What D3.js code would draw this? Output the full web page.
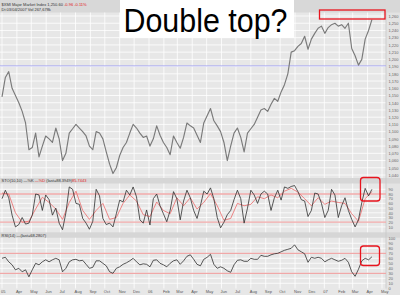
<!DOCTYPE html>
<html><head><meta charset="utf-8">
<script src="https://cdn.jsdelivr.net/npm/d3@7"></script>
<style>body{margin:0;background:#fff}svg{display:block}text{font-family:"Liberation Sans",Arial,sans-serif}</style>
</head><body>
<script>
// ---------- data (weekly samples) ----------
const startDate = "2005-03-01";
const monthLabels = ["05","Apr","May","Jun","Jul","Aug","Sep","Oct","Nov","Dec","06","Feb","Mar","Apr","May","Jun","Jul","Aug","Sep","Oct","Nov","Dec","07","Feb","Mar","Apr","May"];
const priceTicks = d3.range(1040, 1261, 10);
const stoTicks = [10,20,30,40,50,60,70,80,90];
const rsiTicks = [0,10,20,30,40,50,60,70,80,90,100];
const price = [1148,1175,1183,1160,1150,1140,1128,1112,1075,1078,1098,1065,1080,1094,1090,1085,1105,1090,1060,1070,
 1098,1104,1110,1105,1100,1094,1080,1075,1100,1098,1090,1072,1055,1042,1050,1067,1078,1085,1098,1110,
 1105,1098,1092,1094,1080,1090,1108,1095,1085,1078,1068,1094,1085,1077,1092,1112,1108,1105,1095,1085,
 1112,1122,1132,1115,1108,1100,1085,1060,1080,1098,1105,1092,1072,1098,1104,1110,1120,1130,1132,1128,
 1138,1146,1142,1155,1165,1180,1210,1212,1218,1222,1232,1214,1228,1236,1243,1246,1236,1244,1248,1250,
 1246,1248,1243,1250,1215,1205,1192,1200,1228,1240,1255];
const stoK = [70,88,72,35,10,15,30,16,18,35,80,78,45,78,68,35,50,18,4,40,
 95,90,60,58,28,18,5,22,90,76,28,15,18,10,38,67,63,88,78,95,
 74,25,18,46,14,70,80,55,38,21,45,85,70,25,65,88,72,45,28,55,
 86,80,93,70,30,8,20,36,45,68,88,70,18,50,88,78,60,80,86,80,
 45,72,88,67,95,92,96,98,85,68,65,32,45,82,80,60,30,45,90,78,
 30,55,72,45,26,10,25,62,92,76,90];
// %D sampled every two weeks
const stoD = [82,80,40,20,22,48,73,62,48,26,62,86,45,26,45,60,26,30,60,78,
 65,36,32,63,45,38,72,55,72,48,62,81,55,24,28,60,55,58,74,70,
 78,72,86,92,84,70,55,72,58,65,62,60,38,22,70,85];
const rsi14 = [60,62,53,47,37,40,33,37,23,37,50,47,53,57,53,57,60,57,33,40,
 53,57,58,55,56,48,40,42,55,55,50,45,33,30,40,43,48,51,55,60,
 53,47,49,48,43,56,57,50,47,43,50,55,57,48,55,64,67,58,48,45,
 58,62,68,48,40,43,40,35,32,47,56,57,54,54,60,58,58,66,64,64,
 67,69,70,73,76,78,80,87,77,73,69,52,62,60,62,60,53,57,60,57,
 54,56,60,52,33,24,38,55,60,57,63];
const supportLevel = 1191;

// ---------- layout ----------
const W = 400, H = 295, plotR = 386;
const svg = d3.select("body").append("svg").attr("width", W).attr("height", H);
const t0 = d3.timeParse("%Y-%m-%d")(startDate);
const x = d3.scaleTime().domain([t0, d3.timeMonth.offset(t0, 26)]).range([2, 382]);
const yP = d3.scaleLinear().domain([1040, 1260]).range([175, 16]);
const yS = d3.scaleLinear().domain([0, 100]).range([231.6, 184.6]);
const yR = d3.scaleLinear().domain([0, 100]).range([288.3, 238.3]);

svg.append("rect").attr("width", W).attr("height", H).attr("fill", "#e7e7e7");
svg.append("rect").attr("x", plotR).attr("width", W - plotR).attr("height", H).attr("fill", "#e3e3e3");
// header bands
svg.append("rect").attr("width", W).attr("height", 12.5).attr("fill", "#d8d8d8");
svg.append("rect").attr("y", 178).attr("width", W).attr("height", 5.5).attr("fill", "#d6d6d6");
svg.append("rect").attr("y", 232.3).attr("width", W).attr("height", 5.5).attr("fill", "#d6d6d6");

const panels = [
  {top: 12.5, bottom: 178},
  {top: 183.5, bottom: 232.3},
  {top: 237.8, bottom: 288.5}
];
// vertical month grid
const months = monthLabels.map((d, i) => d3.timeMonth.offset(t0, i));
panels.forEach(p => {
  svg.append("g").selectAll("line").data(months.filter(m => x(m) < plotR)).join("line")
    .attr("x1", d => x(d)).attr("x2", d => x(d)).attr("y1", p.top).attr("y2", p.bottom)
    .attr("stroke", "#fff").attr("stroke-width", 0.8);
});
// horizontal grids
function hgrid(vals, y) {
  svg.append("g").selectAll("line").data(vals).join("line")
    .attr("x1", 0).attr("x2", plotR).attr("y1", d => y(d)).attr("y2", d => y(d))
    .attr("stroke", "#fff").attr("stroke-width", 0.8);
}
hgrid(priceTicks, yP);
hgrid(stoTicks, yS);
hgrid(rsiTicks.filter(v => v > 0 && v < 100), yR);
// right axis separator
svg.append("line").attr("x1", plotR).attr("x2", plotR).attr("y1", 12.5).attr("y2", 288.5).attr("stroke", "#c8c8c8").attr("stroke-width", 0.8);

// reference lines
function refLine(v, y, color, w) {
  svg.append("line").attr("x1", 0).attr("x2", plotR).attr("y1", y(v)).attr("y2", y(v))
    .attr("stroke", color).attr("stroke-width", w);
}
refLine(supportLevel, yP, "#a4a4f0", 0.9);
refLine(80, yS, "#f0a8a8", 1.3); refLine(20, yS, "#f0a8a8", 1.3);
refLine(70, yR, "#f0a8a8", 1.3); refLine(30, yR, "#f0a8a8", 1.3);

// series
const wk = i => d3.timeWeek.offset(t0, i);
function series(vals, y, step, color, w) {
  svg.append("path").datum(vals)
    .attr("d", d3.line().x((d, i) => x(wk(i * step))).y(d => y(d)))
    .attr("fill", "none").attr("stroke", color).attr("stroke-width", w).attr("stroke-linejoin", "round");
}
series(price, yP, 1, "#7a7a7a", 1.15);
series(stoD, yS, 2, "#ec6a6a", 0.8);
series(stoK, yS, 1, "#2e2e2e", 0.8);
series(rsi14, yR, 1, "#2e2e2e", 0.8);

// axes (right)
function rightAxis(vals, y, fmt) {
  const g = svg.append("g").attr("transform", `translate(${plotR + 1},0)`)
    .call(d3.axisRight(y).tickValues(vals).tickSize(0).tickPadding(1.5).tickFormat(fmt));
  g.select(".domain").remove();
  g.selectAll("text").attr("font-size", 4).attr("fill", "#666").attr("font-family", "Liberation Sans, Arial, sans-serif");
}
rightAxis(priceTicks, yP, d3.format(","));
rightAxis(stoTicks, yS, d3.format("d"));
rightAxis(rsiTicks, yR, d3.format("d"));

// bottom month labels
svg.append("g").selectAll("text").data(monthLabels).join("text")
  .attr("x", (d, i) => x(months[i]) - 1).attr("y", 292.5)
  .attr("font-size", 4).attr("fill", "#555").text(d => d);

// header texts
const h1 = svg.append("text").attr("x", 1.5).attr("y", 5.6).attr("font-size", 4).attr("fill", "#333");
h1.append("tspan").text("$XMI Major Market Index  1,250.60  ");
h1.append("tspan").attr("fill", "#e02020").text("-0.96  -0.11%");
svg.append("text").attr("x", 1.5).attr("y", 10.8).attr("font-size", 4).attr("fill", "#333").text("Dt 03/04/2007  Vol 267,678k");
const h2 = svg.append("text").attr("x", 1.5).attr("y", 182.3).attr("font-size", 4).attr("fill", "#333");
h2.append("tspan").text("STO(10,10)  —%K  ");
h2.append("tspan").attr("fill", "#e02020").text("—%D");
h2.append("tspan").text("  (last=88.3949)");
h2.append("tspan").attr("fill", "#e02020").text("85.7443");
svg.append("text").attr("x", 1.5).attr("y", 236.6).attr("font-size", 4).attr("fill", "#333").text("RSI(14)  —(last=68.2807)");

// annotations
svg.append("rect").attr("x", 120).attr("y", 0).attr("width", 174).attr("height", 38).attr("fill", "#fff");
svg.append("text").attr("x", 123.5).attr("y", 31.8).attr("font-size", 34).attr("fill", "#000")
  .attr("textLength", 164).attr("lengthAdjust", "spacingAndGlyphs").text("Double top?");
svg.append("rect").attr("x", 319.5).attr("y", 10).attr("width", 65.5).attr("height", 9)
  .attr("fill", "none").attr("stroke", "#e8141e").attr("stroke-width", 1.3);
svg.append("rect").attr("x", 360.5).attr("y", 177.5).attr("width", 19.5).attr("height", 23.5).attr("rx", 3)
  .attr("fill", "none").attr("stroke", "#e8141e").attr("stroke-width", 1.3);
svg.append("rect").attr("x", 360.5).attr("y", 246).attr("width", 19).attr("height", 19.5).attr("rx", 3)
  .attr("fill", "none").attr("stroke", "#e8141e").attr("stroke-width", 1.3);
</script>
</body></html>
